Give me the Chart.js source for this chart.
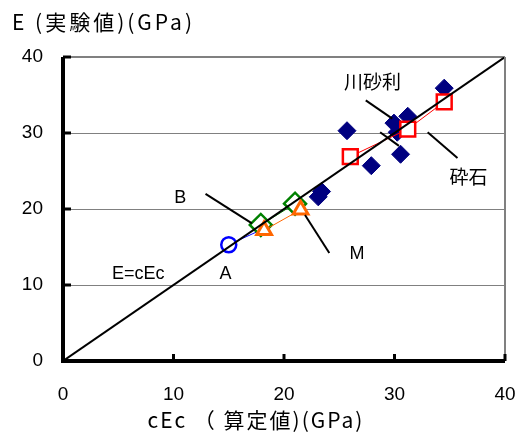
<!DOCTYPE html>
<html>
<head>
<meta charset="utf-8">
<script src="https://cdn.jsdelivr.net/npm/chart.js@4/dist/chart.umd.min.js"></script>
<style>
  html, body { margin: 0; padding: 0; background: #fff; }
  #wrap { width: 525px; height: 439px; }
</style>
</head>
<body>
<div id="wrap"><canvas id="chart" width="525" height="439"></canvas></div>
<script>
// data (GPa)
const xTicks = [0, 10, 20, 30, 40];
const yTicks = [0, 10, 20, 30, 40];

// 川砂利
const riverX = [25.7, 34.5, 29.95, 31.2, 30.25, 30.55, 27.9, 23.1, 23.4];
const riverY = [30.3, 35.9, 31.3, 32.2, 30.1, 27.2, 25.7, 21.6, 22.3];
// 砕石
const crushedX = [26.0, 31.2, 34.5];
const crushedY = [26.9, 30.5, 34.1];
// A
const aX = [15.0, 18.0];
const aY = [15.3, 17.3];
// B
const bX = [17.9, 21.0];
const bY = [17.9, 20.7];
// M
const mX = [18.2, 21.5];
const mY = [17.2, 19.9];
// E = cEc
const equalX = [0, 40];
const equalY = [0, 40];

// leader lines, in data units [x1, y1, x2, y2]
const leaders = [
  [27.4, 34.3, 29.8, 31.9],
  [28.7, 30.1, 30.4, 28.3],
  [33.0, 30.1, 35.7, 26.7],
  [12.9, 22.0, 17.1, 18.1],
  [21.9, 19.2, 24.1, 14.2]
];
// labels in data units
const labelText = ["川砂利", "砕石", "B", "M", "A", "E=cEc"];
const labelX = [28.0, 36.7, 10.6, 26.6, 14.7, 6.8];
const labelY = [36.8, 24.2, 21.5, 14.1, 11.4, 11.4];

const yTitle = "E (実験値)(GPa)";
const xTitle = "cEc （ 算定値)(GPa)";

const LATIN = "'Liberation Sans', Arial, sans-serif";
const JP = "'Noto Sans CJK JP', 'Liberation Sans', sans-serif";

function pts(xs, ys) {
  return xs.map((x, i) => ({ x, y: ys[i] }));
}

const extras = {
  id: "extras",
  afterDatasetsDraw(chart) {
    const { ctx, chartArea: a, scales: { x, y } } = chart;
    ctx.save();
    // leader lines
    ctx.strokeStyle = "#000";
    ctx.lineWidth = 2;
    leaders.forEach(l => {
      ctx.beginPath();
      ctx.moveTo(x.getPixelForValue(l[0]), y.getPixelForValue(l[1]));
      ctx.lineTo(x.getPixelForValue(l[2]), y.getPixelForValue(l[3]));
      ctx.stroke();
    });
    // right frame
    ctx.strokeStyle = "#808080";
    ctx.lineWidth = 2;
    ctx.beginPath();
    ctx.moveTo(a.right, a.top);
    ctx.lineTo(a.right, a.bottom);
    ctx.stroke();
    // axes
    ctx.strokeStyle = "#000";
    ctx.lineWidth = 4;
    ctx.beginPath();
    ctx.moveTo(a.left, a.top);
    ctx.lineTo(a.left, a.bottom);
    ctx.lineTo(a.right, a.bottom);
    ctx.stroke();
    ctx.lineWidth = 3;
    xTicks.forEach(v => {
      const px = x.getPixelForValue(v);
      ctx.beginPath();
      ctx.moveTo(px, a.bottom);
      ctx.lineTo(px, a.bottom - 7);
      ctx.stroke();
    });
    yTicks.forEach(v => {
      const py = y.getPixelForValue(v);
      ctx.beginPath();
      ctx.moveTo(a.left, py);
      ctx.lineTo(a.left + 8, py);
      ctx.stroke();
    });
    // labels
    ctx.fillStyle = "#000";
    ctx.textAlign = "center";
    ctx.textBaseline = "middle";
    labelText.forEach((t, i) => {
      ctx.font = /[^\x00-\x7f]/.test(t) ? "19px " + JP : "18px " + LATIN;
      ctx.fillText(t, x.getPixelForValue(labelX[i]), y.getPixelForValue(labelY[i]));
    });
    // titles
    ctx.font = "21px " + JP;
    ctx.letterSpacing = "3px";
    ctx.textAlign = "left";
    ctx.fillText(yTitle, 12, 22);
    ctx.letterSpacing = "2px";
    ctx.textAlign = "center";
    ctx.fillText(xTitle, 256, 420);
    ctx.letterSpacing = "0px";
    ctx.restore();
  }
};

new Chart(document.getElementById("chart"), {
  type: "scatter",
  data: {
    datasets: [
      {
        data: pts(equalX, equalY),
        showLine: true,
        borderColor: "#000",
        borderWidth: 2,
        pointRadius: 0,
        order: 0
      },
      {
        data: pts(mX, mY),
        showLine: true,
        borderColor: "#FF6600",
        borderWidth: 1,
        pointStyle: "triangle",
        pointRadius: 8.5,
        pointBorderWidth: 3,
        pointBorderColor: "#FF6600",
        pointBackgroundColor: "#fff",
        order: 1
      },
      {
        data: pts(bX, bY),
        showLine: true,
        borderColor: "#008000",
        borderWidth: 1,
        pointStyle: "rectRot",
        pointRadius: 11,
        pointBorderWidth: 2.5,
        pointBorderColor: "#008000",
        pointBackgroundColor: "#fff",
        order: 2
      },
      {
        data: pts(aX, aY),
        showLine: true,
        borderColor: "#0000FF",
        borderWidth: 1,
        pointStyle: "circle",
        pointRadius: [7.5, 0],
        pointBorderWidth: 2.5,
        pointBorderColor: "#0000FF",
        pointBackgroundColor: "#fff",
        order: 3
      },
      {
        data: pts(crushedX, crushedY),
        showLine: true,
        borderColor: "#FF0000",
        borderWidth: 1,
        pointStyle: "rect",
        pointRadius: 10.5,
        pointBorderWidth: 2.5,
        pointBorderColor: "#FF0000",
        pointBackgroundColor: "#fff",
        order: 4
      },
      {
        data: pts(riverX, riverY),
        showLine: false,
        pointStyle: "rectRot",
        pointRadius: 9,
        pointBorderWidth: 1,
        pointBorderColor: "#000080",
        pointBackgroundColor: "#000080",
        order: 5
      }
    ]
  },
  options: {
    responsive: false,
    animation: false,
    layout: { padding: { left: 0, right: 20, top: 57, bottom: 0 } },
    plugins: {
      legend: { display: false },
      tooltip: { enabled: false }
    },
    scales: {
      x: {
        min: 0, max: 40,
        afterBuildTicks: s => { s.ticks = xTicks.map(v => ({ value: v })); },
        afterFit: s => { s.height = 78; s.paddingLeft = 0; s.paddingRight = 0; },
        grid: { display: false, drawTicks: false },
        border: { display: false },
        ticks: { padding: 22, color: "#000", font: { family: LATIN, size: 19 } }
      },
      y: {
        min: 0, max: 40,
        afterBuildTicks: s => { s.ticks = yTicks.map(v => ({ value: v })); },
        afterFit: s => { s.width = 63; s.paddingTop = 0; s.paddingBottom = 0; },
        grid: {
          drawTicks: false,
          color: "#808080",
          lineWidth: c => (c.tick && c.tick.value === 40 ? 2 : 1)
        },
        border: { display: false },
        ticks: { padding: 20, color: "#000", font: { family: LATIN, size: 19 } }
      }
    }
  },
  plugins: [extras]
});
</script>
</body>
</html>
